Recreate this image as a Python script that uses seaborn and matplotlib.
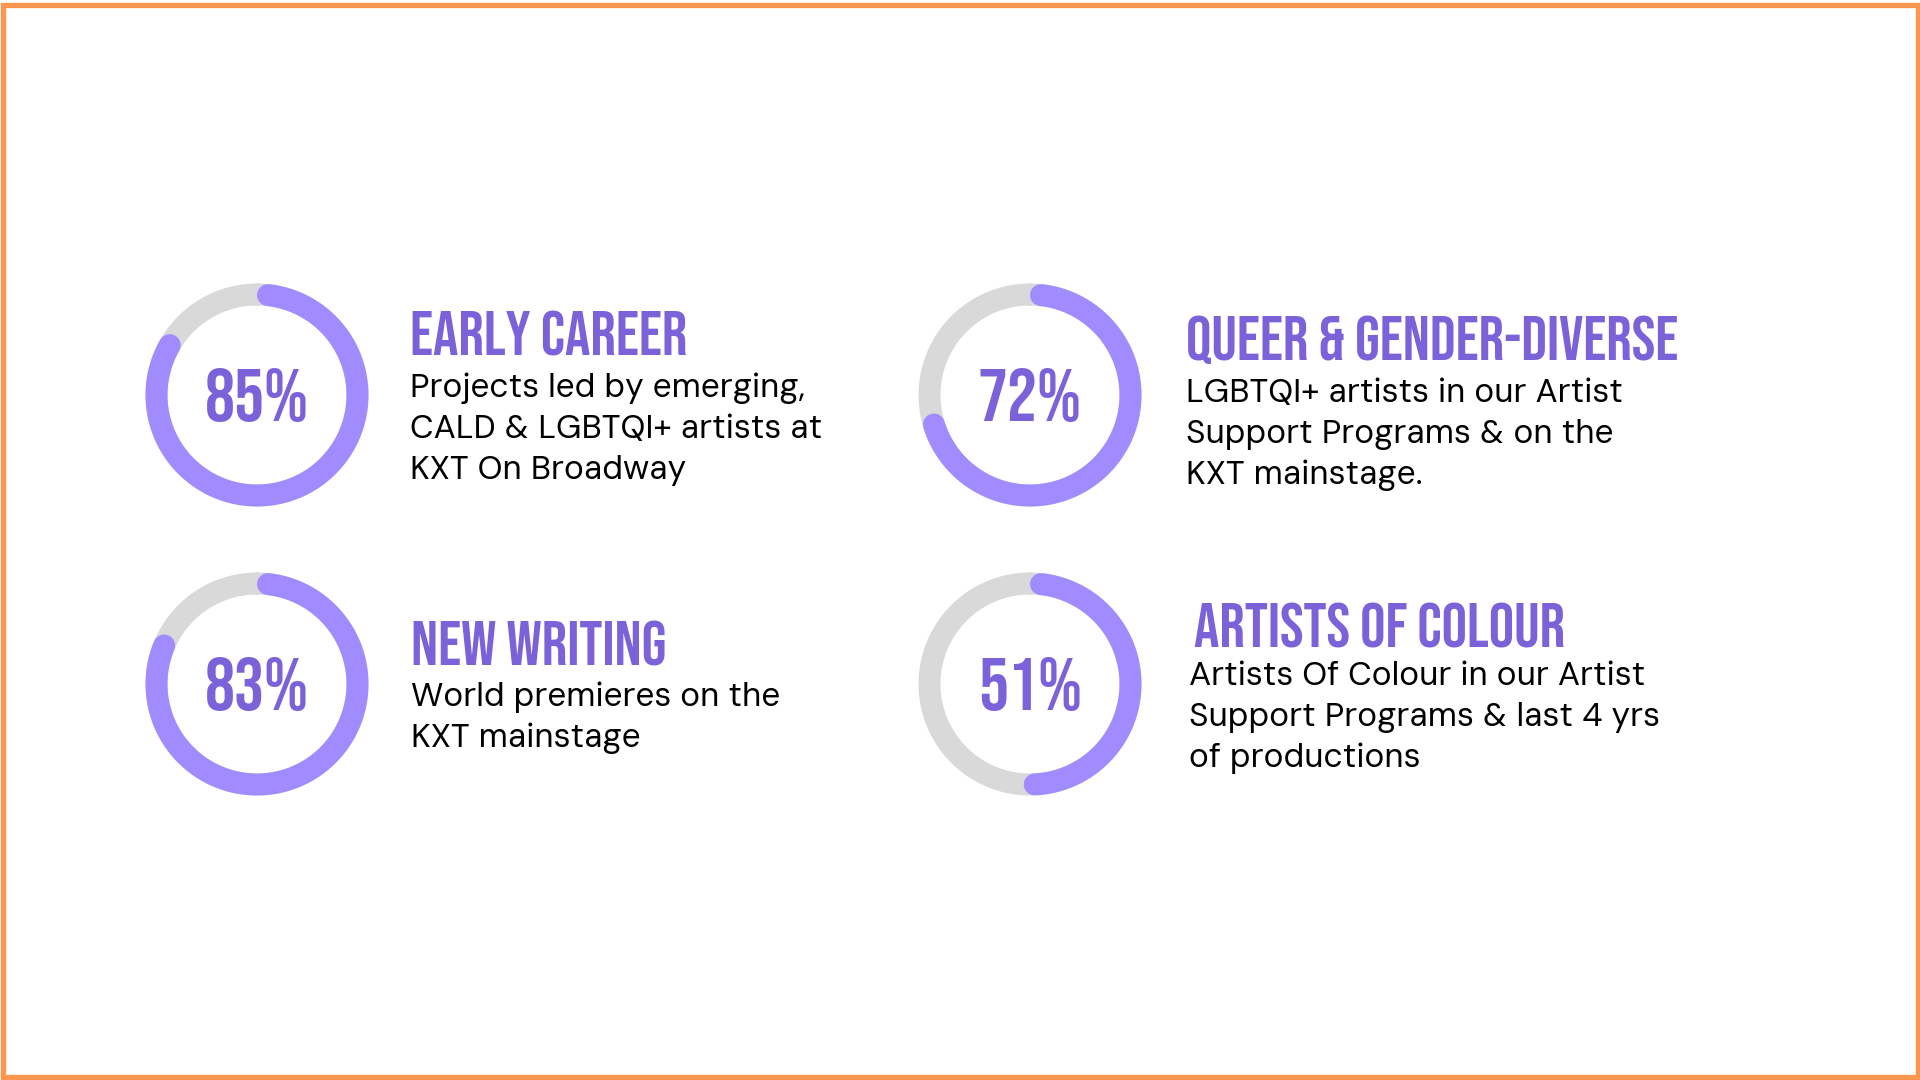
import matplotlib
matplotlib.use("Agg")
import matplotlib.pyplot as plt
import seaborn as sns
import numpy as np
from matplotlib.patches import Rectangle

sns.set_theme(style="white")
plt.rcParams['font.family'] = ['DM Sans', 'Inter', 'DejaVu Sans']

percents = [85, 72, 83, 51]
titles = ["EARLY CAREER", "QUEER & GENDER-DIVERSE", "NEW WRITING", "ARTISTS OF COLOUR"]
descriptions = [
    ["Projects led by emerging,", "CALD & LGBTQI+ artists at", "KXT On Broadway"],
    ["LGBTQI+ artists in our Artist", "Support Programs & on the", "KXT mainstage."],
    ["World premieres on the", "KXT mainstage"],
    ["Artists Of Colour in our Artist", "Support Programs & last 4 yrs", "of productions"],
]

# layout in pixels: donut centre, title x / baseline, body x / first baseline
layout = [
    dict(c=(257, 395), tx=410, ty=355, bx=410, by=397),
    dict(c=(1030, 395), tx=1186, ty=360, bx=1186, by=402),
    dict(c=(257, 684), tx=411, ty=666, bx=411, by=706),
    dict(c=(1030, 684), tx=1194, ty=647, bx=1189, by=685),
]

ARC = "#A08CFF"
TRACK = "#D9D9D9"
INK = "#7B62D8"
W, H = 1920, 1080
R = 100.5          # ring centre radius, px
RING = 22          # ring thickness, px
cond = ['Bebas Neue', 'Antonio', 'DejaVu Sans']

fig = plt.figure(figsize=(19.2, 10.8), dpi=100)
fig.patch.set_facecolor("white")
ax = fig.add_axes([0, 0, 1, 1])
ax.set_xlim(0, W)
ax.set_ylim(H, 0)
ax.axis("off")

ax.add_patch(Rectangle((2.5, 4.5), W - 5, H - 7.5, fill=False,
                       edgecolor="#FF9650", linewidth=3.8))

lw = RING * 72 / 100
for pct, title, desc, lay in zip(percents, titles, descriptions, layout):
    cx, cy = lay["c"]
    pax = fig.add_axes([(cx - R) / W, 1 - (cy + R) / H, 2 * R / W, 2 * R / H],
                       projection="polar")
    pax.set_theta_zero_location("N")
    pax.set_theta_direction(-1)
    pax.set_ylim(0, 1)
    pax.axis("off")
    full = np.linspace(0, 2 * np.pi, 361)
    pax.plot(full, np.ones_like(full), color=TRACK, lw=lw, clip_on=False)
    cap = (RING / 2) / R
    end = 2 * np.pi * pct / 100
    arc = np.linspace(cap, end - cap, 300)
    pax.plot(arc, np.ones_like(arc), color=ARC, lw=lw, clip_on=False,
             solid_capstyle="round")

    ax.text(cx, cy, f"{pct}%", ha="center", va="center", color=INK,
            fontsize=54, family=cond)
    ax.text(lay["tx"], lay["ty"], title, ha="left", va="baseline", color=INK,
            fontsize=45.5, family=cond)
    for i, line in enumerate(desc):
        ax.text(lay["bx"], lay["by"] + i * 41, line, ha="left", va="baseline",
                color="black", fontsize=24)

fig.savefig("out.png", dpi=100, facecolor="white")
